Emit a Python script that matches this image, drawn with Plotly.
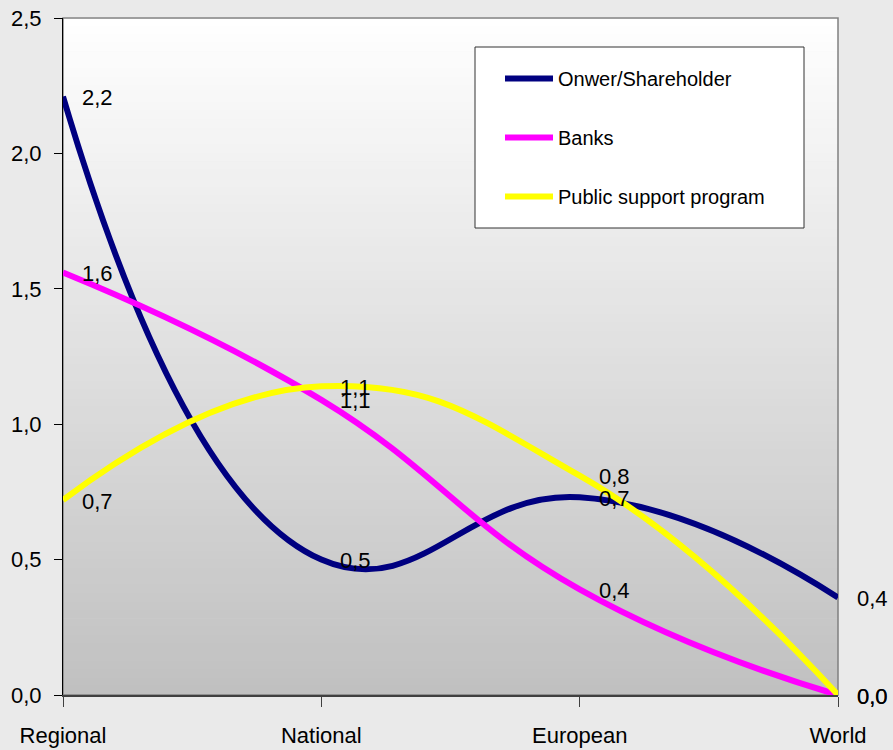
import plotly.graph_objects as go

# Funding sources by market reach
categories = ["Regional", "National", "European", "World"]
owner = [2.21, 0.50, 0.73, 0.36]
banks = [1.56, 1.09, 0.39, 0.00]
public = [0.72, 1.14, 0.81, 0.00]

series = [
    ("Onwer/Shareholder", owner, "#000080"),
    ("Banks", banks, "#ff00ff"),
    ("Public support program", public, "#ffff00"),
]

FONT = "Liberation Sans, Arial, sans-serif"

fig = go.Figure()
annotations = []
for i, (name, vals, color) in enumerate(series):
    fig.add_trace(go.Scatter(
        x=categories, y=vals, name=name, mode="lines",
        line=dict(color=color, width=6, shape="spline", smoothing=1.3),
        legendgroup=f"g{i}",
    ))
    for cat, v in zip(categories, vals):
        annotations.append(dict(
            x=cat, y=v, xref="x", yref="y",
            text=f"{v:.1f}".replace(".", ","),
            showarrow=False, xanchor="left", yanchor="middle",
            xshift=17, yshift=-1,
            font=dict(family=FONT, size=22, color="black"),
        ))

# vertical gradient behind the plot area: white at top fading to grey
shapes = []
n = 80
top = (255, 255, 255)
bot = (192, 192, 192)
for k in range(n):
    t = (k + 0.5) / n
    c = tuple(round(top[j] + (bot[j] - top[j]) * t) for j in range(3))
    shapes.append(dict(
        type="rect", xref="x domain", yref="y domain",
        x0=0, x1=1, y0=1 - (k + 1) / n, y1=1 - k / n + 0.001,
        fillcolor=f"rgb{c}", line=dict(width=0), layer="below",
    ))
# plot-area frame
shapes.append(dict(type="rect", xref="x domain", yref="y domain",
                   x0=0, x1=1, y0=0, y1=1,
                   line=dict(color="#808080", width=1.5), layer="below"))
# legend box
shapes.append(dict(type="rect", xref="paper", yref="paper",
                   x0=(475 - 63) / 775, x1=(804 - 63) / 775,
                   y0=(695 - 228) / 677, y1=(695 - 47) / 677,
                   fillcolor="white", line=dict(color="#333333", width=1),
                   layer="above"))

fig.update_layout(
    width=893, height=750,
    margin=dict(l=63, r=55, t=18, b=55, autoexpand=False),
    paper_bgcolor="#eaeaea",
    plot_bgcolor="rgba(0,0,0,0)",
    separators=",.",
    font=dict(family=FONT, size=22, color="black"),
    showlegend=True,
    legend=dict(
        x=(500 - 63) / 775, y=(695 - 59) / 677, xanchor="left", yanchor="top",
        bgcolor="rgba(0,0,0,0)", borderwidth=0,
        font=dict(family=FONT, size=20, color="black"),
        traceorder="grouped", tracegroupgap=30, itemwidth=48,
    ),
    shapes=shapes,
    annotations=annotations,
    xaxis=dict(
        type="category", range=[0, 3], showgrid=False, zeroline=False,
        showline=True, linecolor="#404040", linewidth=2,
        ticks="outside", ticklen=10, tickcolor="#404040", tickwidth=1,
        ticklabelstandoff=10, automargin=False,
        tickfont=dict(family=FONT, size=22, color="black"),
    ),
    yaxis=dict(
        range=[0, 2.5], dtick=0.5, tickformat=".1f", showgrid=False,
        zeroline=False, showline=True, linecolor="black", linewidth=1,
        ticks="outside", ticklen=8, tickcolor="black",
        ticklabelstandoff=8, automargin=False,
        tickfont=dict(family=FONT, size=22, color="black"),
    ),
)

fig.write_html("out.html")
